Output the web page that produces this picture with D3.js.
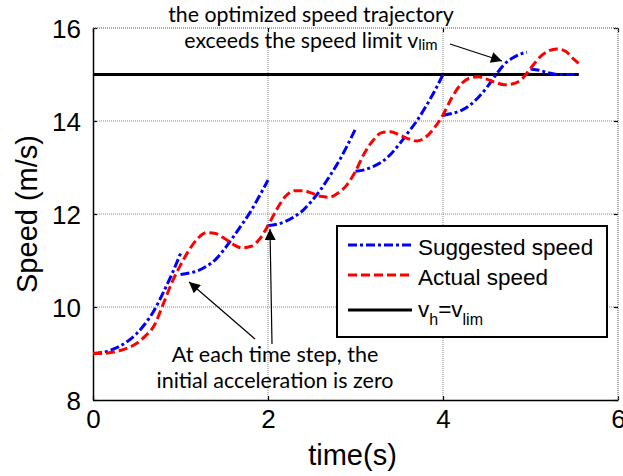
<!DOCTYPE html>
<html>
<head>
<meta charset="utf-8">
<script src="https://cdn.jsdelivr.net/npm/d3@7"></script>
<style>
  body { margin: 0; background: #fff; }
  text { font-family: "Liberation Sans", Arial, sans-serif; }
  .note { font-family: Lato, "Open Sans", sans-serif; }
</style>
</head>
<body>
<svg id="svg" width="623" height="476"></svg>
<script>
// Suggested speed: one piece per time step (restarted with zero acceleration)
const suggestedT = [
  [0, 0.1, 0.2, 0.3, 0.4, 0.5, 0.6, 0.7, 0.8, 0.9, 1.0],
  [1.0, 1.1, 1.2, 1.3, 1.4, 1.5, 1.6, 1.7, 1.8, 1.9, 2.0],
  [2.0, 2.1, 2.2, 2.3, 2.4, 2.5, 2.6, 2.7, 2.8, 2.9, 3.0],
  [3.0, 3.1, 3.2, 3.3, 3.4, 3.5, 3.6, 3.7, 3.8, 3.9, 4.0],
  [4.0, 4.1, 4.2, 4.3, 4.4, 4.5, 4.6, 4.7, 4.8, 4.9, 4.96],
  [5.0, 5.1, 5.2, 5.3, 5.4, 5.55]
];
const suggestedV = [
  [9.0, 9.02, 9.07, 9.15, 9.27, 9.43, 9.65, 9.93, 10.3, 10.7, 11.15],
  [10.7, 10.73, 10.78, 10.88, 11.02, 11.24, 11.5, 11.77, 12.05, 12.38, 12.73],
  [11.75, 11.78, 11.84, 11.94, 12.08, 12.28, 12.52, 12.8, 13.1, 13.45, 13.83],
  [12.92, 12.95, 13.02, 13.12, 13.28, 13.5, 13.75, 14.0, 14.3, 14.63, 15.0],
  [14.12, 14.16, 14.22, 14.33, 14.5, 14.72, 14.98, 15.22, 15.36, 15.45, 15.48],
  [15.12, 15.09, 15.04, 15.0, 15.0, 15.0]
];

// Actual speed
const actualT = [0, 0.1, 0.2, 0.3, 0.4, 0.5, 0.6, 0.7, 0.8, 0.9, 1.0, 1.1, 1.2, 1.3, 1.4, 1.5,
  1.6, 1.7, 1.8, 1.9, 2.0, 2.1, 2.2, 2.3, 2.4, 2.5, 2.6, 2.7, 2.8, 2.9, 3.0, 3.1, 3.2, 3.3,
  3.4, 3.5, 3.6, 3.7, 3.8, 3.9, 4.0, 4.1, 4.2, 4.3, 4.4, 4.5, 4.6, 4.7, 4.8, 4.9, 5.0, 5.1,
  5.2, 5.3, 5.4, 5.5, 5.55];
const actualV = [9.0, 9.0, 9.02, 9.06, 9.12, 9.22, 9.38, 9.6, 10.05, 10.52, 10.9, 11.23, 11.48,
  11.6, 11.58, 11.48, 11.35, 11.27, 11.3, 11.45, 11.75, 12.1, 12.38, 12.5, 12.5, 12.45, 12.38,
  12.36, 12.45, 12.62, 12.92, 13.3, 13.58, 13.75, 13.77, 13.7, 13.62, 13.57, 13.65, 13.85,
  14.13, 14.5, 14.78, 14.92, 14.95, 14.9, 14.83, 14.78, 14.8, 14.9, 15.13, 15.36, 15.5, 15.55,
  15.5, 15.32, 15.24];

// Speed limit
const limitT = [0, 5.55];
const limitV = [15, 15];

const xTicks = [0, 2, 4, 6];
const yTicks = [8, 10, 12, 14, 16];

const attr = {
  left: 93, right: 618, top: 28, bottom: 400
};

const svg = d3.select("svg#svg");

const x = d3.scaleLinear().domain([0, 6]).range([attr.left, attr.right]);
const y = d3.scaleLinear().domain([8, 16]).range([attr.bottom, attr.top]);

var zip = function(ts, vs) {
  return ts.map((t, i) => [t, vs[i]]);
}

// grid (dotted)
const grid = svg.append("g");
grid.selectAll("line.gx")
  .data(xTicks.slice(1))
  .enter().append("line")
  .attr("x1", d => x(d)).attr("x2", d => x(d))
  .attr("y1", attr.top).attr("y2", attr.bottom)
  .attr("stroke", "#8a8a8a").attr("stroke-width", 1)
  .attr("stroke-dasharray", "1,1");
grid.selectAll("line.gy")
  .data(yTicks.slice(1))
  .enter().append("line")
  .attr("y1", d => y(d)).attr("y2", d => y(d))
  .attr("x1", attr.left).attr("x2", attr.right)
  .attr("stroke", "#8a8a8a").attr("stroke-width", 1)
  .attr("stroke-dasharray", "1,1");

// axes
const fmt = d3.format("d");
const xAxis = svg.append("g")
  .attr("transform", "translate(0," + attr.bottom + ")")
  .call(d3.axisBottom(x).tickValues(xTicks).tickFormat(fmt).tickSizeInner(-4).tickSizeOuter(0).tickPadding(10));
const yAxis = svg.append("g")
  .attr("transform", "translate(" + attr.left + ",0)")
  .call(d3.axisLeft(y).tickValues(yTicks).tickFormat(fmt).tickSizeInner(-4).tickSizeOuter(0).tickPadding(12));
const rAxis = svg.append("g")
  .attr("transform", "translate(" + attr.right + ",0)")
  .call(d3.axisRight(y).tickValues(yTicks).tickSizeInner(-4).tickSizeOuter(0).tickFormat(""));
const tAxis = svg.append("g")
  .attr("transform", "translate(0," + attr.top + ")")
  .call(d3.axisTop(x).tickValues(xTicks).tickSizeInner(-4).tickSizeOuter(0).tickFormat(""));
svg.selectAll(".domain").attr("stroke", "#000").attr("stroke-width", 1.5);
svg.selectAll(".tick line").attr("stroke", "#000").attr("stroke-width", 1.2);
// box off: top and right only show the dotted grid line
rAxis.select(".domain").remove();
tAxis.select(".domain").remove();
xAxis.selectAll("text").attr("font-size", 26).attr("fill", "#000");
yAxis.selectAll("text").attr("font-size", 26).attr("fill", "#000").attr("dy", "0.36em");

svg.append("line")
  .attr("x1", attr.left).attr("x2", attr.right).attr("y1", attr.top).attr("y2", attr.top)
  .attr("stroke", "#8a8a8a").attr("stroke-dasharray", "1,1");
svg.append("line")
  .attr("x1", attr.right).attr("x2", attr.right).attr("y1", attr.top).attr("y2", attr.bottom)
  .attr("stroke", "#8a8a8a").attr("stroke-dasharray", "1,1");

// axis labels
svg.append("text")
  .attr("x", (attr.left + attr.right) / 2 - 3).attr("y", 465)
  .attr("text-anchor", "middle").attr("font-size", 29)
  .text("time(s)");
svg.append("text")
  .attr("transform", "translate(37," + ((attr.top + attr.bottom) / 2) + ") rotate(-90)")
  .attr("text-anchor", "middle").attr("font-size", 29)
  .text("Speed (m/s)");

// lines
const line = d3.line().x(d => x(d[0])).y(d => y(d[1])).curve(d3.curveMonotoneX);

svg.append("path")
  .datum(zip(limitT, limitV))
  .attr("d", line)
  .attr("fill", "none").attr("stroke", "#000").attr("stroke-width", 3);

svg.selectAll("path.suggested")
  .data(suggestedT.map((ts, i) => zip(ts, suggestedV[i])))
  .enter().append("path")
  .attr("class", "suggested")
  .attr("d", line)
  .attr("fill", "none").attr("stroke", "#0000ff").attr("stroke-width", 3)
  .attr("stroke-dasharray", "9,3,3,3");

svg.append("path")
  .datum(zip(actualT, actualV))
  .attr("d", line)
  .attr("fill", "none").attr("stroke", "#ff0000").attr("stroke-width", 3)
  .attr("stroke-dasharray", "9,4");

// legend
const lg = svg.append("g");
lg.append("rect")
  .attr("x", 337).attr("y", 226).attr("width", 270).attr("height", 111)
  .attr("fill", "#fff").attr("stroke", "#000").attr("stroke-width", 2);
const legendRows = [
  { y: 245, color: "#0000ff", dash: "9,3,3,3" },
  { y: 275, color: "#ff0000", dash: "9,4" },
  { y: 310, color: "#000", dash: null }
];
lg.selectAll("line.key")
  .data(legendRows)
  .enter().append("line")
  .attr("x1", 348).attr("x2", 412)
  .attr("y1", d => d.y).attr("y2", d => d.y)
  .attr("stroke", d => d.color).attr("stroke-width", 3)
  .attr("stroke-dasharray", d => d.dash);
lg.append("text").attr("x", 418).attr("y", 255).attr("font-size", 22.5).text("Suggested speed");
lg.append("text").attr("x", 418).attr("y", 285).attr("font-size", 22.5).text("Actual speed");
const vt = lg.append("text").attr("x", 418).attr("y", 317).attr("font-size", 22.5);
vt.append("tspan").text("v");
vt.append("tspan").attr("dy", 8).attr("font-size", 16).text("h");
vt.append("tspan").attr("dy", -8).text("=v");
vt.append("tspan").attr("dy", 8).attr("font-size", 16).text("lim");

// annotations
svg.append("defs").append("marker")
  .attr("id", "arrow").attr("viewBox", "0 0 10 10")
  .attr("refX", 10).attr("refY", 5)
  .attr("markerWidth", 13).attr("markerHeight", 11)
  .attr("markerUnits", "userSpaceOnUse")
  .attr("orient", "auto")
  .append("path").attr("d", "M0,0 L10,5 L0,10 z").attr("fill", "#000");

const arrows = [
  [450, 44, 502, 61],
  [255, 339, 189, 282],
  [272, 344, 270, 229]
];
svg.selectAll("line.arrow")
  .data(arrows)
  .enter().append("line")
  .attr("x1", d => d[0]).attr("y1", d => d[1])
  .attr("x2", d => d[2]).attr("y2", d => d[3])
  .attr("stroke", "#000").attr("stroke-width", 1.2)
  .attr("marker-end", "url(#arrow)");

const topNote = svg.append("text").attr("class", "note")
  .attr("text-anchor", "middle").attr("font-size", 21.3);
topNote.append("tspan").attr("x", 311).attr("y", 22).text("the optimized speed trajectory");
const t2 = topNote.append("tspan").attr("x", 311).attr("y", 48);
t2.append("tspan").text("exceeds the speed limit v");
t2.append("tspan").attr("font-size", 15).attr("dy", 2).text("lim");

const botNote = svg.append("text").attr("class", "note")
  .attr("text-anchor", "middle").attr("font-size", 21.5);
botNote.append("tspan").attr("x", 275).attr("y", 362).text("At each time step, the");
botNote.append("tspan").attr("x", 275).attr("y", 388).text("initial acceleration is zero");
</script>
</body>
</html>
